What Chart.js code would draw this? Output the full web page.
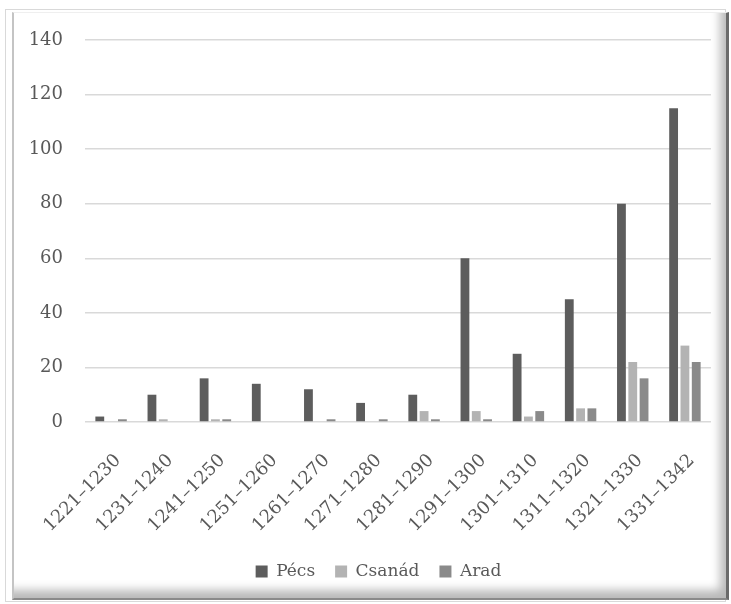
<!DOCTYPE html>
<html>
<head>
<meta charset="utf-8">
<script src="https://cdn.jsdelivr.net/npm/chart.js@4/dist/chart.umd.min.js"></script>
<style>
  html, body { margin: 0; padding: 0; background: #ffffff; }
  body { width: 731px; height: 604px; position: relative; overflow: hidden; }
  #outer { position: absolute; left: 5px; top: 9px; width: 719px; height: 591px; border: 1px solid #d9d9d9; }
  #inner { position: absolute; left: 12px; top: 12px; width: 712px; height: 585px;
           border-left: 2px solid #c4c4c4; border-top: 1px solid #efefef;
           border-right: 3px solid #6a6a6a; border-bottom: 2px solid #8a8a8a;
           box-shadow: inset -12px -14px 10px -6px rgba(0,0,0,0.28); background: #fff; }
  #wrap { position: absolute; left: 0; top: 0; width: 731px; height: 604px; }
</style>
</head>
<body>
<div id="outer"></div>
<div id="inner"></div>
<div id="wrap"><canvas id="c" width="731" height="604"></canvas></div>
<script>
const categories = ["1221–1230","1231–1240","1241–1250","1251–1260","1261–1270","1271–1280","1281–1290","1291–1300","1301–1310","1311–1320","1321–1330","1331–1342"];
const pecs    = [2, 10, 16, 14, 12, 7, 10, 60, 25, 45, 80, 115];
const csanad  = [0, 1, 1, 0, 0, 0, 4, 4, 2, 5, 22, 28];
const arad    = [1, 0, 1, 0, 1, 1, 1, 1, 4, 5, 16, 22];
const yTicks  = [0, 20, 40, 60, 80, 100, 120, 140];

const FONT = "'DejaVu Serif', 'Liberation Serif', serif";
const TXT = '#595959';

const legendShift = {
  id: 'legendShift',
  afterLayout(chart) {
    const lg = chart.legend;
    if (lg) { lg.left += 18; lg.right += 18; }
  }
};

new Chart(document.getElementById('c'), {
  type: 'bar',
  data: {
    labels: categories,
    datasets: [
      { label: 'Pécs', data: pecs, backgroundColor: '#5d5d5d' },
      { label: 'Csanád', data: csanad, backgroundColor: '#b3b3b3' },
      { label: 'Arad', data: arad, backgroundColor: '#8a8a8a' }
    ]
  },
  plugins: [legendShift],
  options: {
    responsive: false,
    animation: false,
    datasets: { bar: { categoryPercentage: 0.65, barPercentage: 0.78 } },
    layout: { padding: { left: 10, right: 20, top: 40, bottom: 14 } },
    plugins: {
      tooltip: { enabled: false },
      legend: {
        position: 'bottom',
        labels: { boxWidth: 12, boxHeight: 12, padding: 20, color: TXT, font: { family: FONT, size: 17 } }
      }
    },
    scales: {
      x: {
        grid: { display: false },
        border: { display: false },
        ticks: { color: TXT, font: { family: FONT, size: 18 }, minRotation: 45, maxRotation: 45, padding: 20, labelOffset: 7 },
        afterFit: (s) => { s.height = 121; }
      },
      y: {
        min: 0, max: 140,
        afterBuildTicks: (s) => { s.ticks = yTicks.map(v => ({ value: v })); },
        grid: { color: '#d9d9d9', lineWidth: 1.5, drawTicks: false },
        border: { display: false },
        ticks: { color: TXT, font: { family: FONT, size: 18 }, padding: 22 },
        afterFit: (s) => { s.width = 75; }
      }
    }
  }
});
</script>
</body>
</html>
